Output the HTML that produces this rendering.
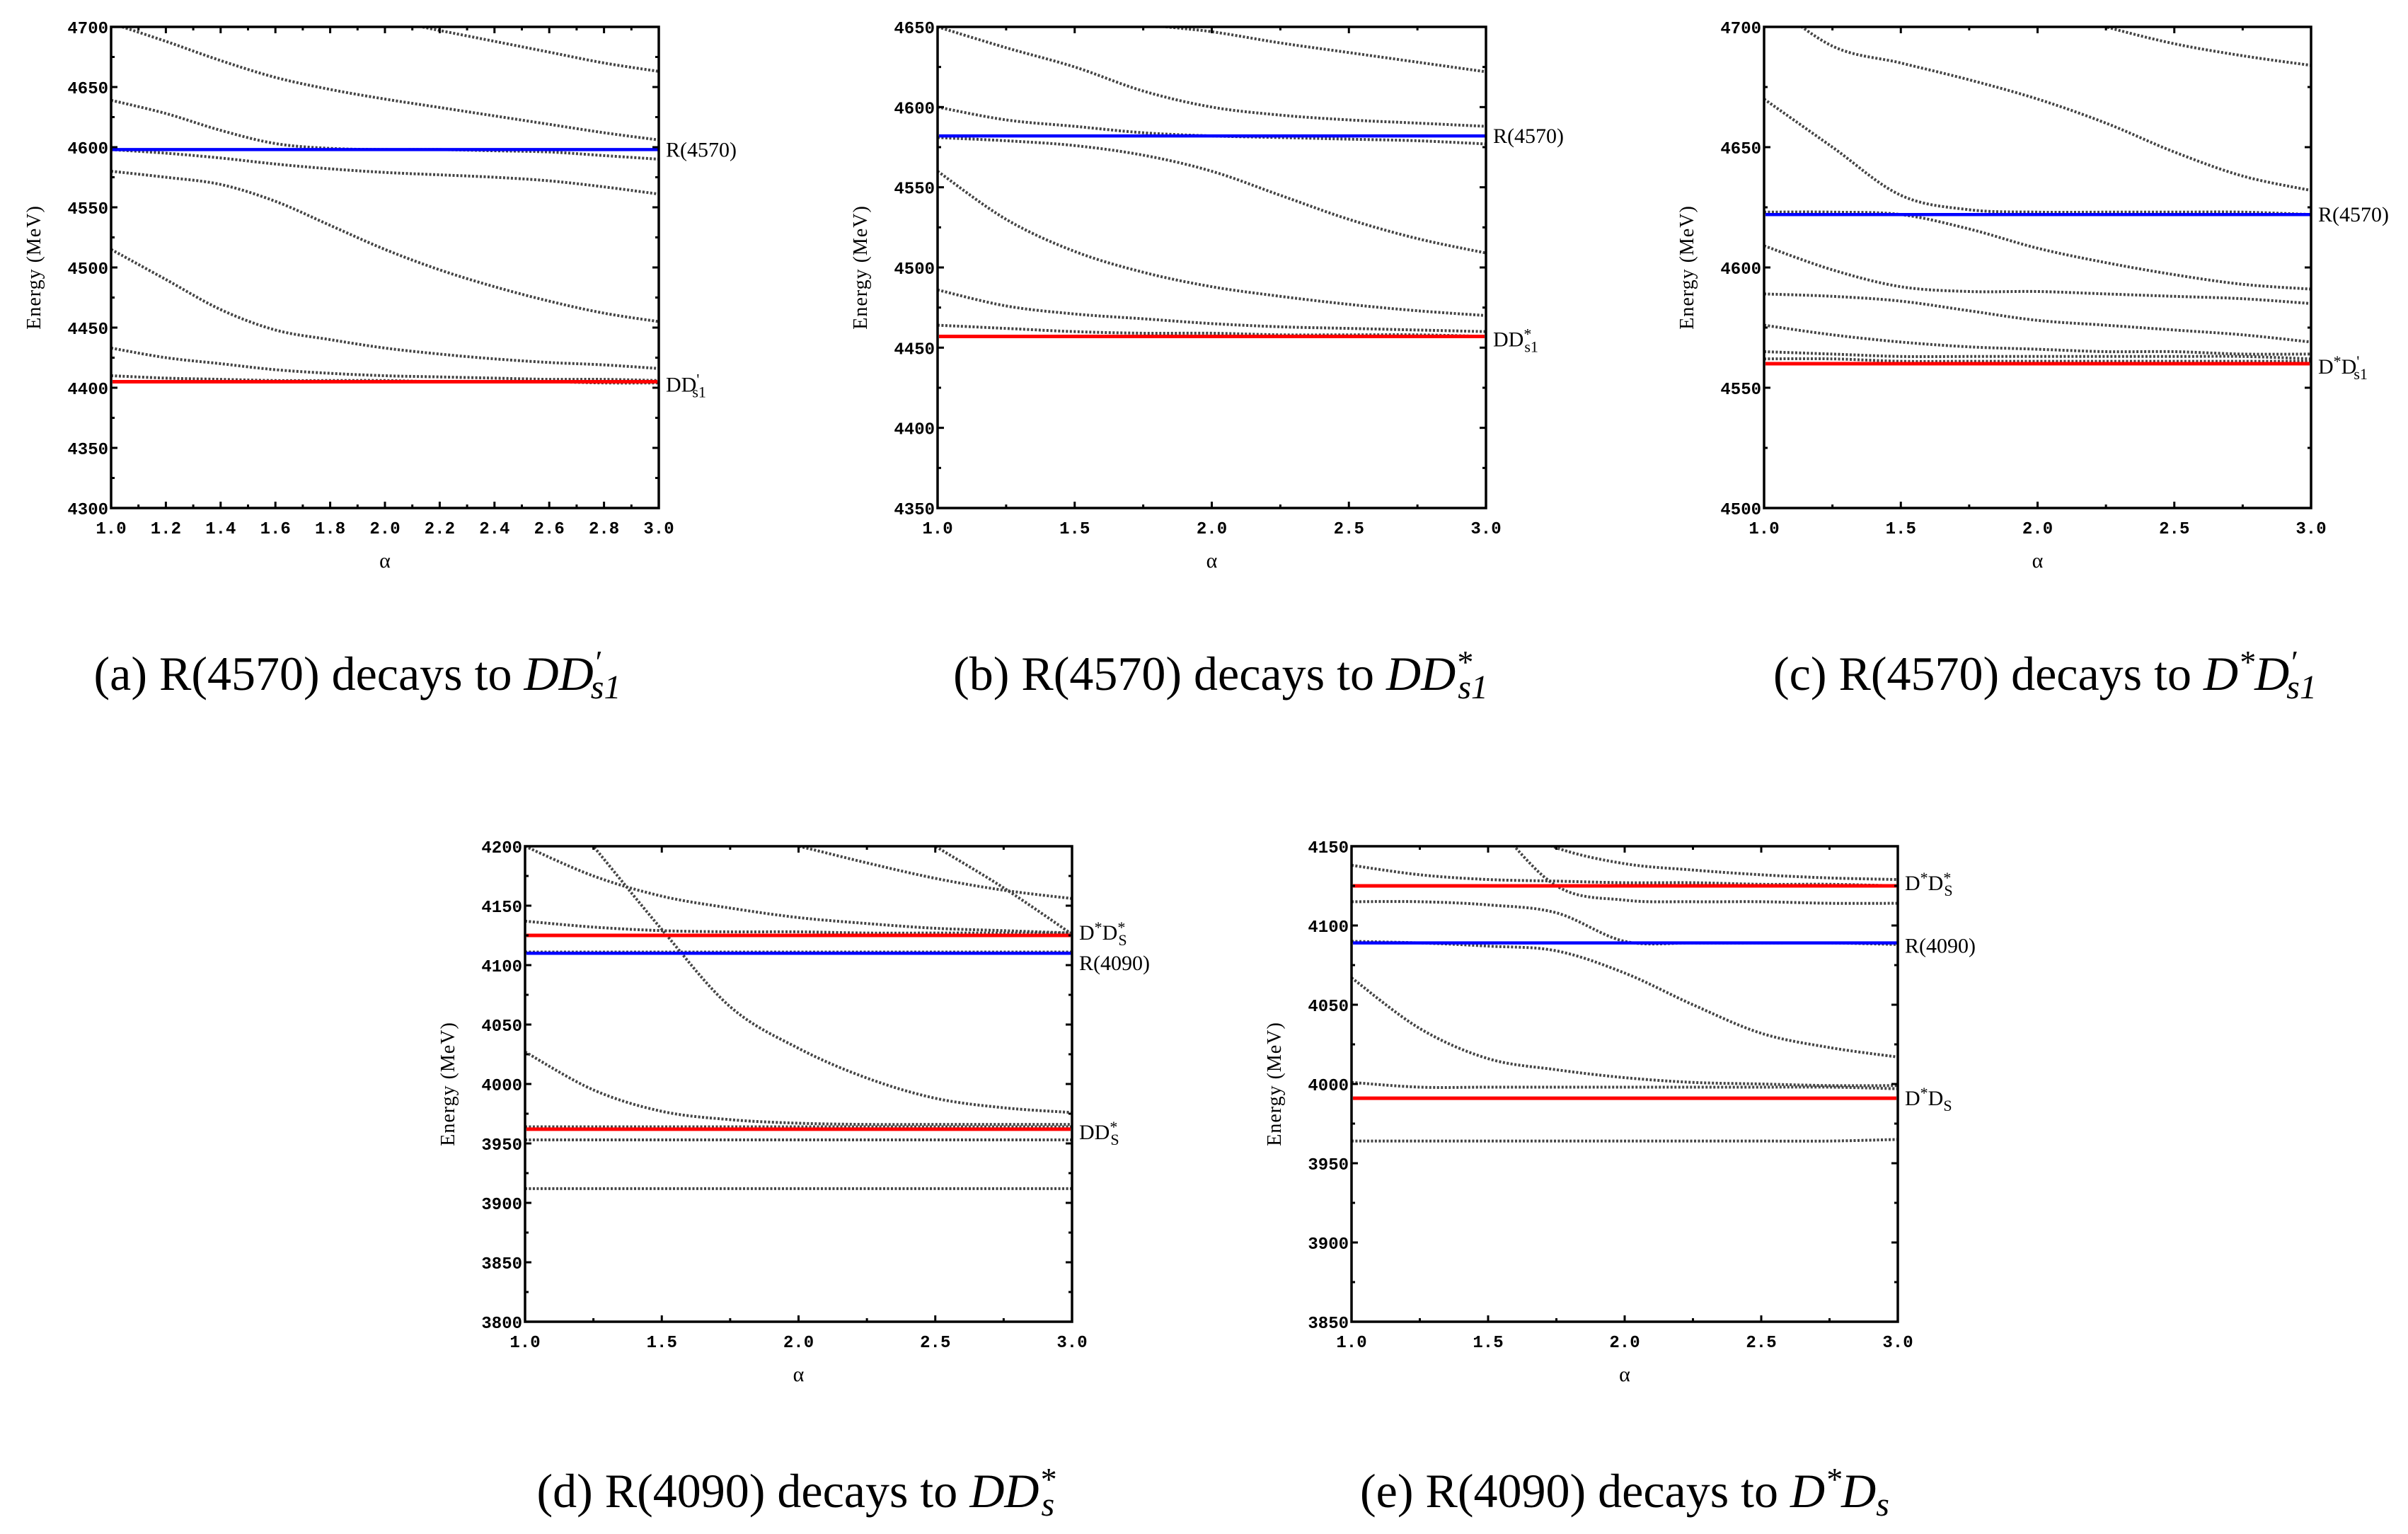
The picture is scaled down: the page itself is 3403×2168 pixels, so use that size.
<!DOCTYPE html>
<html><head><meta charset="utf-8"><style>
html,body{margin:0;padding:0;background:#fff;}
svg{display:block;}
.tick{font-family:"Liberation Mono","DejaVu Sans Mono",monospace;font-size:24px;font-weight:bold;fill:#000;}
.lab{font-family:"Liberation Serif",serif;font-size:30px;fill:#000;}
.ytl{font-family:"Liberation Serif",serif;font-size:28px;fill:#000;letter-spacing:1px;}
.cap{font-family:"Liberation Serif",serif;font-size:68px;fill:#000;}
</style></head><body>
<svg id="fig" xmlns="http://www.w3.org/2000/svg" width="3403" height="2168" viewBox="0 0 3403 2168">
<text class="cap" x="505" y="975" text-anchor="middle">(a)  R(4570) decays to <tspan font-style="italic">DD</tspan><tspan font-style="italic" dy="-24" font-size="46">′</tspan><tspan font-style="italic" dy="36" dx="-14" font-size="48">s1</tspan></text>
<text class="cap" x="1725" y="975" text-anchor="middle">(b)  R(4570) decays to <tspan font-style="italic">DD</tspan><tspan font-style="italic" dy="-24" font-size="46">*</tspan><tspan font-style="italic" dy="36" dx="-20" font-size="48">s1</tspan></text>
<text class="cap" x="2890" y="975" text-anchor="middle">(c)  R(4570) decays to <tspan font-style="italic">D</tspan><tspan font-style="italic" dy="-24" font-size="46">*</tspan><tspan font-style="italic" dy="24">D</tspan><tspan font-style="italic" dy="-24" font-size="46">′</tspan><tspan font-style="italic" dy="36" dx="-14" font-size="48">s1</tspan></text>
<text class="cap" x="1125" y="2130" text-anchor="middle">(d)  R(4090) decays to <tspan font-style="italic">DD</tspan><tspan font-style="italic" dy="-24" font-size="46">*</tspan><tspan font-style="italic" dy="36" dx="-20" font-size="48">s</tspan></text>
<text class="cap" x="2296" y="2130" text-anchor="middle">(e)  R(4090) decays to <tspan font-style="italic">D</tspan><tspan font-style="italic" dy="-24" font-size="46">*</tspan><tspan font-style="italic" dy="24">D</tspan><tspan font-style="italic" dy="12" font-size="48">s</tspan></text>
</svg>
<script>
// alpha sample grids
const alphaA = [1.0,1.2,1.4,1.6,1.8,2.0,2.2,2.4,2.6,2.8,3.0];
const alpha9 = [1.0,1.25,1.5,1.75,2.0,2.25,2.5,2.75,3.0];
// panel a series
const seriesA = [
 [4703,4688,4672,4658,4648,4640,4633,4626,4619,4612,4606],
 [4740,4733,4726,4719,4712,4706,4697,4688,4679,4670,4663],
 [4639,4628,4614,4603,4599,4598,4598,4597,4596,4593,4590],
 [4598,4595,4591,4586,4582,4579,4577,4575,4572,4567,4561],
 [4580,4575,4569,4555,4535,4515,4498,4484,4472,4462,4455],
 [4515,4490,4465,4448,4440,4433,4428,4424,4421,4419,4416],
 [4433,4425,4420,4415,4412,4410,4409,4408,4407,4407,4406],
 [4410,4408,4407,4406,4406,4406,4405,4405,4405,4404,4404]];
const seriesB = [
 [4650,4637,4625,4610,4600,4595,4592,4590,4588],
 [4690,4675,4662,4652,4647,4640,4634,4628,4622],
 [4600,4592,4588,4584,4582,4581,4580,4579,4577],
 [4581,4579,4576,4570,4560,4545,4530,4518,4509],
 [4560,4530,4510,4497,4488,4482,4477,4473,4470],
 [4486,4476,4471,4468,4465,4463,4462,4461,4460],
 [4464,4462,4460,4459,4459,4458,4458,4458,4457]];
const seriesC = [
 [4712,4692,4685,4678,4670,4660,4648,4638,4632],
 [4760,4745,4730,4718,4708,4700,4693,4688,4684],
 [4670,4650,4630,4624,4623,4623,4623,4623,4622],
 [4623,4623,4622,4616,4608,4602,4597,4593,4591],
 [4609,4599,4592,4590,4590,4589,4588,4587,4585],
 [4589,4588,4586,4582,4578,4576,4574,4572,4569],
 [4576,4572,4569,4567,4566,4565,4565,4564,4564],
 [4565,4564,4563,4563,4563,4563,4563,4563,4562],
 [4562,4562,4561,4561,4561,4561,4561,4561,4561]];
const seriesD = [
 [4200,4175,4158,4148,4140,4135,4131,4129,4127],
 [4270,4200,4130,4065,4030,4005,3988,3980,3976],
 [4290,4260,4232,4212,4200,4186,4173,4163,4156],
 [4400,4370,4340,4305,4270,4235,4200,4165,4126],
 [4137,4132,4129,4128,4128,4127,4127,4127,4127],
 [4111,4111,4111,4111,4111,4111,4111,4111,4111],
 [4027,3995,3977,3970,3967,3966,3966,3966,3966],
 [3964,3964,3964,3964,3964,3964,3964,3964,3964],
 [3953,3953,3953,3953,3953,3953,3953,3953,3953],
 [3912,3912,3912,3912,3912,3912,3912,3912,3912]];
const seriesE = [
 [4200,4185,4168,4149,4139,4135,4132,4130,4129],
 [4250,4210,4168,4125,4116,4115,4115,4114,4114],
 [4138,4132,4129,4128,4127,4127,4126,4126,4125],
 [4115,4115,4113,4108,4090,4089,4089,4089,4088],
 [4090,4089,4087,4084,4070,4050,4032,4023,4017],
 [4067,4035,4016,4009,4004,4001,4000,3999,3999],
 [4001,3998,3998,3998,3998,3998,3998,3998,3997],
 [3964,3964,3964,3964,3964,3964,3964,3964,3965]];
// threshold / resonance lines
const redA=[4405], blueA=[4598];
const redB=[4457], blueB=[4582];
const redC=[4560], blueC=[4622];
const redD=[4125,3962], blueD=[4110];
const redE=[4125,3991], blueE=[4089];
const yTicksA=[4300,4350,4400,4450,4500,4550,4600,4650,4700];
const yTicksB=[4350,4400,4450,4500,4550,4600,4650];
const yTicksC=[4500,4550,4600,4650,4700];
const yTicksD=[3800,3850,3900,3950,4000,4050,4100,4150,4200];
const yTicksE=[3850,3900,3950,4000,4050,4100,4150];
const xTicksA=[1.0,1.2,1.4,1.6,1.8,2.0,2.2,2.4,2.6,2.8,3.0];
const xTicks5=[1.0,1.5,2.0,2.5,3.0];

const NS="http://www.w3.org/2000/svg";
const svg=document.getElementById('fig');
function mk(tag,attrs,parent){const e=document.createElementNS(NS,tag);for(const k in attrs)e.setAttribute(k,attrs[k]);(parent||svg).appendChild(e);return e;}

function panel(id,box,ymin,ymax,yTicks,xTicks,xDec,alphas,series,reds,blues,labels){
  const g=mk('g',{});
  
  
  const sx=a=>box.x0+(a-1)/(2)*(box.x1-box.x0);
  const sy=v=>box.y1-(v-ymin)/(ymax-ymin)*(box.y1-box.y0);
  const cp=mk('clipPath',{id:'clip'+id},g);
  mk('rect',{x:box.x0,y:box.y0,width:box.x1-box.x0,height:box.y1-box.y0},cp);
  const cg=mk('g',{'clip-path':'url(#clip'+id+')'},g);
  series.forEach((s,i)=>{
    const pts=s.map((v,j)=>[sx(alphas[j]),sy(v)]);
    let d='M'+pts[0][0]+','+pts[0][1];
    for(let j=0;j<pts.length-1;j++){
      const p0=pts[Math.max(0,j-1)],p1=pts[j],p2=pts[j+1],p3=pts[Math.min(pts.length-1,j+2)];
      const c1=[p1[0]+(p2[0]-p0[0])/6,p1[1]+(p2[1]-p0[1])/6];
      const c2=[p2[0]-(p3[0]-p1[0])/6,p2[1]-(p3[1]-p1[1])/6];
      d+=' C'+c1[0]+','+c1[1]+' '+c2[0]+','+c2[1]+' '+p2[0]+','+p2[1];
    }
    const p=mk('path',{d:d,fill:'none',stroke:'#444','stroke-width':4,'stroke-dasharray':'3,2.5'},cg);
    
    
  });
  reds.forEach((v,i)=>{
    const l=mk('line',{x1:box.x0+2,x2:box.x1-2,y1:sy(v),y2:sy(v),stroke:'#f00','stroke-width':5},cg);
    
    
  });
  blues.forEach((v,i)=>{
    const l=mk('line',{x1:box.x0+2,x2:box.x1,y1:sy(v),y2:sy(v),stroke:'#00f','stroke-width':4.5},cg);
    
    
  });
  const fr=mk('rect',{x:box.x0,y:box.y0,width:box.x1-box.x0,height:box.y1-box.y0,fill:'none',stroke:'#000','stroke-width':3.5},g);
  
  
  const step=yTicks[1]-yTicks[0];
  for(let k=0;k<yTicks.length;k++){
    const v=yTicks[k],y=sy(v);
    mk('line',{x1:box.x0,x2:box.x0+9,y1:y,y2:y,stroke:'#000','stroke-width':3},g);
    mk('line',{x1:box.x1,x2:box.x1-9,y1:y,y2:y,stroke:'#000','stroke-width':3},g);
    if(k<yTicks.length-1){const ym=sy(v+step/2);
      mk('line',{x1:box.x0,x2:box.x0+5,y1:ym,y2:ym,stroke:'#000','stroke-width':3},g);
      mk('line',{x1:box.x1,x2:box.x1-5,y1:ym,y2:ym,stroke:'#000','stroke-width':3},g);}
    const t=mk('text',{x:box.x0-4,y:y+9,'text-anchor':'end',class:'tick'},g);
    t.textContent=v;
    
    
  }
  const xs=xTicks[1]-xTicks[0];
  for(let k=0;k<xTicks.length;k++){
    const a=xTicks[k],x=sx(a);
    mk('line',{x1:x,x2:x,y1:box.y1,y2:box.y1-9,stroke:'#000','stroke-width':3},g);
    mk('line',{x1:x,x2:x,y1:box.y0,y2:box.y0+9,stroke:'#000','stroke-width':3},g);
    if(k<xTicks.length-1){const xm=sx(a+xs/2);
      mk('line',{x1:xm,x2:xm,y1:box.y1,y2:box.y1-5,stroke:'#000','stroke-width':3},g);
      mk('line',{x1:xm,x2:xm,y1:box.y0,y2:box.y0+5,stroke:'#000','stroke-width':3},g);}
    const t=mk('text',{x:x,y:box.y1+36,'text-anchor':'middle',class:'tick'},g);
    t.textContent=a.toFixed(xDec);
    
    
  }
  const yt=mk('text',{x:0,y:0,'text-anchor':'middle',class:'ytl',transform:'translate('+(box.x0-100)+','+((box.y0+box.y1)/2)+') rotate(-90)'},g);
  yt.textContent='Energy (MeV)';
  
  
  const xt=mk('text',{x:(box.x0+box.x1)/2,y:box.y1+84,'text-anchor':'middle',class:'lab'},g);
  xt.textContent='α';
  
  
  labels.forEach(L=>{
    const t=mk('text',{x:box.x1+10,y:sy(L.v)+L.dy,class:'lab'},g);
    t.innerHTML=L.html;
    
    
  });
}
const sub=(base,sup,s)=>base+'<tspan dy="-10" font-size="22">'+sup+'</tspan><tspan dy="18" dx="-10" font-size="22">'+s+'</tspan>';
const topY0=38, topY1=718, botY0=1196, botY1=1868;
panel('a',{x0:157,x1:931,y0:topY0,y1:topY1},4300,4700,yTicksA,xTicksA,1,alphaA,seriesA,redA,blueA,
 [{v:4598,dy:10,html:'R(4570)'},{v:4405,dy:14,html:sub('DD',"'",'s1')}]);
panel('b',{x0:1325,x1:2100,y0:topY0,y1:topY1},4350,4650,yTicksB,xTicks5,1,alpha9,seriesB,redB,blueB,
 [{v:4582,dy:10,html:'R(4570)'},{v:4457,dy:14,html:sub('DD','*','s1')}]);
panel('c',{x0:2493,x1:3266,y0:topY0,y1:topY1},4500,4700,yTicksC,xTicks5,1,alpha9,seriesC,redC,blueC,
 [{v:4622,dy:10,html:'R(4570)'},{v:4560,dy:14,html:'D<tspan dy="-10" font-size="22">*</tspan><tspan dy="10">D</tspan><tspan dy="-10" font-size="22">\'</tspan><tspan dy="18" dx="-8" font-size="22">s1</tspan>'}]);
panel('d',{x0:742,x1:1515,y0:botY0,y1:botY1},3800,4200,yTicksD,xTicks5,1,alpha9,seriesD,redD,blueD,
 [{v:4125,dy:6,html:'D<tspan dy="-10" font-size="22">*</tspan><tspan dy="10">D</tspan><tspan dy="-10" font-size="22">*</tspan><tspan dy="18" dx="-10" font-size="22">S</tspan>'},{v:4110,dy:24,html:'R(4090)'},{v:3962,dy:14,html:sub('DD','*','S')}]);
panel('e',{x0:1910,x1:2682,y0:botY0,y1:botY1},3850,4150,yTicksE,xTicks5,1,alpha9,seriesE,redE,blueE,
 [{v:4125,dy:6,html:'D<tspan dy="-10" font-size="22">*</tspan><tspan dy="10">D</tspan><tspan dy="-10" font-size="22">*</tspan><tspan dy="18" dx="-10" font-size="22">S</tspan>'},{v:4089,dy:14,html:'R(4090)'},{v:3991,dy:10,html:'D<tspan dy="-10" font-size="22">*</tspan><tspan dy="10">D</tspan><tspan dy="8" font-size="22">S</tspan>'}]);
</script>
</body></html>
